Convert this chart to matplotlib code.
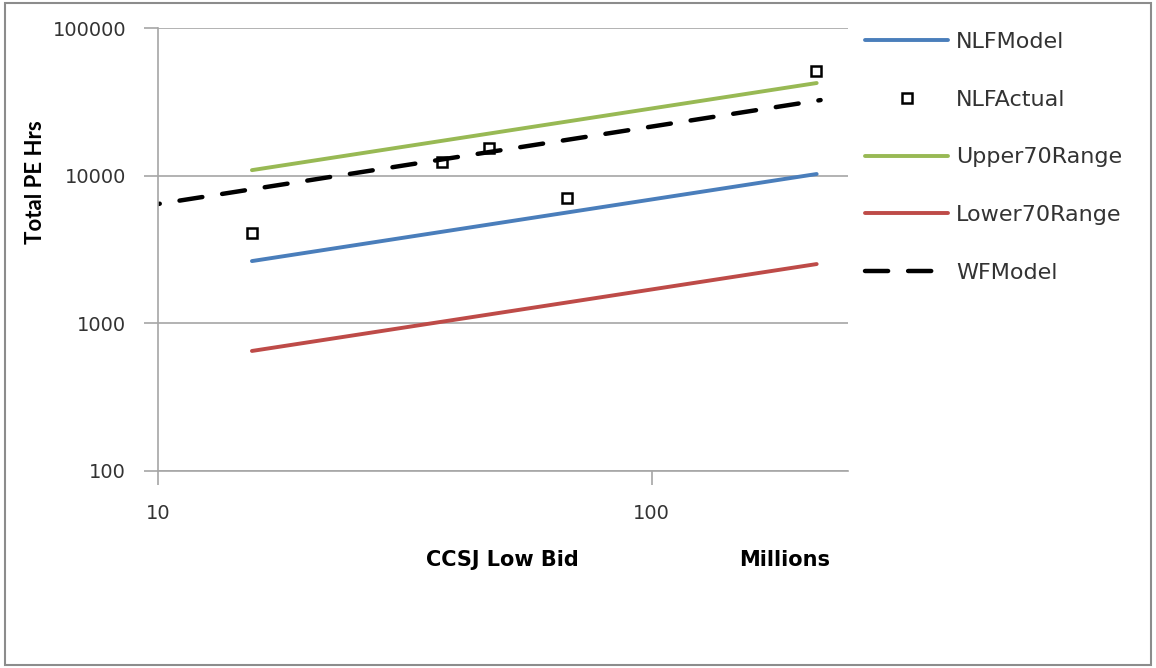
import matplotlib.pyplot as plt

plt.rcParams['font.family'] = ['DejaVu Sans']

# model lines (CCSJ low bid, millions)
model_x = [15.5, 216]
nlf_model = [2640, 10260]
upper70 = [10900, 42400]
lower70 = [650, 2520]

wf_x = [10, 220]
wf_model = [6430, 32500]

actual_x = [15.5, 37.6, 46.9, 67.3, 215]
actual_y = [4090, 12400, 15400, 7060, 51000]

fig = plt.figure(figsize=(11.56, 6.68), dpi=100)
ax = fig.add_axes([158 / 1156, 1 - 471 / 668, (848 - 158) / 1156, (471 - 28) / 668])

ax.plot(model_x, nlf_model, color='#4A7EBB', lw=2.8, label='NLFModel', solid_capstyle='round')
ax.plot(actual_x, actual_y, ls='none', marker='s', ms=6.5, mfc='white', mec='black', mew=1.8,
        label='NLFActual')
ax.plot(model_x, upper70, color='#98B954', lw=2.8, label='Upper70Range', solid_capstyle='round')
ax.plot(model_x, lower70, color='#BE4B48', lw=2.8, label='Lower70Range', solid_capstyle='round')
ax.plot(wf_x, wf_model, color='black', lw=3.2, ls=(4.8, (5.2, 4.5)), label='WFModel',
        dash_capstyle='round')

ax.set_xscale('log')
ax.set_yscale('log')
ax.set_xlim(10, 250)
ax.set_ylim(100, 100000)
ax.set_yticks([100, 1000, 10000, 100000])
ax.set_yticklabels(['100', '1000', '10000', '100000'])
ax.set_xticks([10, 100])
ax.set_xticklabels(['10', '100'])
ax.minorticks_off()

ax.grid(axis='y', color='#a6a6a6', lw=1.2)
ax.set_axisbelow(True)
for s in ['top', 'right']:
    ax.spines[s].set_visible(False)
for s in ['left', 'bottom']:
    ax.spines[s].set_color('#a6a6a6')
    ax.spines[s].set_linewidth(1.2)
ax.tick_params(axis='both', colors='#a6a6a6', labelcolor='#333333', labelsize=14,
               length=10, width=1.2)
ax.tick_params(axis='y', pad=13)
ax.tick_params(axis='x', pad=14)

fig.text(35 / 1156, 1 - 182 / 668, 'Total PE Hrs', rotation=90, family='Lato',
         ha='center', va='center', fontsize=16, fontweight='bold')
fig.text(502 / 1156, 1 - 560 / 668, 'CCSJ Low Bid', ha='center', va='center',
         fontsize=15, fontweight='bold')
fig.text(785 / 1156, 1 - 560 / 668, 'Millions', ha='center', va='center',
         fontsize=15, fontweight='bold')

leg = fig.legend(loc='upper left', bbox_to_anchor=(856 / 1156, 1 - 23 / 668), frameon=False,
                 fontsize=16, handlelength=3.75, handletextpad=0.35, labelspacing=1.7,
                 borderaxespad=0, labelcolor='#333333')
# legend key for the dashed line starts with a full dash
leg.legend_handles[4].set_linestyle((0, (5.2, 4.5)))

# outer frame
fig.patches.append(plt.Rectangle((0.004, 0.004), 0.992, 0.992, transform=fig.transFigure,
                                 fill=False, edgecolor='#8c8c8c', lw=1.5))

fig.savefig('out.png', dpi=100)
